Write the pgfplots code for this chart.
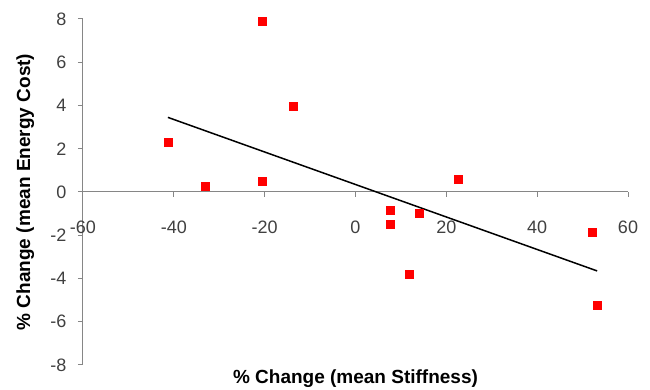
\documentclass[border=0pt]{standalone}
\usepackage{pgfplots}
\pgfplotsset{compat=1.18}
\usepackage{fontspec}
\setmainfont{Liberation Sans}
\definecolor{axgray}{RGB}{134,134,134}
\definecolor{lblgray}{RGB}{64,64,64}
\begin{document}
\begin{tikzpicture}
\begin{axis}[
  name=ax,
  scale only axis,
  width=545pt, height=346pt,
  xmin=-60, xmax=60, ymin=-8, ymax=8,
  axis x line*=middle, axis y line*=left,
  hide obscured x ticks=false, hide obscured y ticks=false,
  xtick={-60,-40,...,60}, ytick={-8,-6,...,8},
  axis line style={axgray, line width=1pt},
  tick style={axgray, line width=1pt},
  major tick length=5pt,
  tick align=outside,
  /pgf/number format/assume math mode=true,
  ticklabel style={font=\fontsize{18}{21}\selectfont, text=lblgray},
  xticklabel style={anchor=center, yshift=-30pt},
  yticklabel style={anchor=east, xshift=-8pt},
  xlabel={\% Change (mean Stiffness)},
  ylabel={\% Change (mean Energy Cost)},
  label style={font=\bfseries\fontsize{19}{22}\selectfont},
  xlabel style={at={(axis description cs:0.5,-0.038)}, anchor=center},
  ylabel style={at={(axis description cs:-0.106,0.5)}, anchor=center},
  clip=false,
]
\addplot[only marks, mark=square*, mark size=4pt, mark options={fill=red, draw=red}, color=red] coordinates {
  (-41.3,2.3) (-33.1,0.25) (-20.6,0.5) (-20.6,7.9) (-13.8,3.95)
  (22.6,0.6) (7.6,-0.85) (7.6,-1.5) (14.0,-1.0) (11.8,-3.8)
  (52.1,-1.85) (53.2,-5.25)
};
\addplot[black, line width=1.5pt] coordinates {(-41.3,3.45) (53.2,-3.65)};
\end{axis}
\pgfresetboundingbox
\path ([xshift=-83pt,yshift=-25pt]ax.south west) rectangle ([xshift=22pt,yshift=19pt]ax.north east);
\end{tikzpicture}
\end{document}
